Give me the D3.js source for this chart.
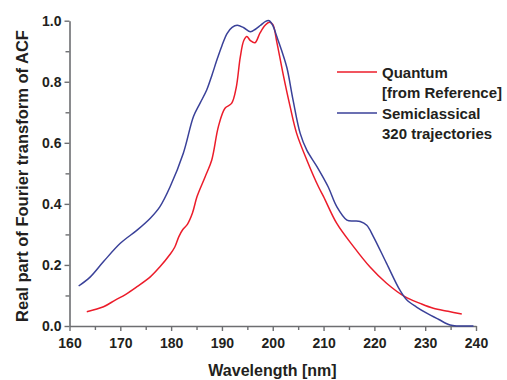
<!DOCTYPE html>
<html><head><meta charset="utf-8">
<script src="https://cdn.jsdelivr.net/npm/d3@7"></script>
<style>
html,body{margin:0;padding:0;background:#fff;}
svg text{font-family:"Liberation Sans",Arial,sans-serif;font-weight:bold;fill:#231f20;}
</style></head>
<body>
<svg id="chart" width="507" height="380"></svg>
<script>
const seriesNames = ["Quantum", "Semiclassical"];
const legendLines = [["Quantum", "[from Reference]"], ["Semiclassical", "320 trajectories"]];
const quantumWl = [163.4,166.7,169,171,173.3,175.9,177.8,179.8,180.7,181.5,182.3,183.2,184.2,185.1,186.7,188,189.3,190.6,191.9,192.8,193.6,194.3,194.9,195.6,196.5,197.5,198.5,199.3,200,200.8,202.1,203.4,204.7,206.7,209,210,212.6,215.9,219.1,222.4,226,229,231.6,234.5,237.2];
const quantumVal = [0.047,0.063,0.085,0.103,0.129,0.161,0.194,0.235,0.258,0.292,0.316,0.333,0.37,0.424,0.489,0.544,0.653,0.713,0.729,0.78,0.88,0.935,0.948,0.935,0.928,0.96,0.985,0.995,0.988,0.93,0.82,0.72,0.631,0.544,0.456,0.424,0.336,0.26,0.194,0.14,0.096,0.074,0.058,0.048,0.039];
const semiWl = [161.8,164.1,166.7,170,173.3,175.9,177.8,179.8,182.4,184.4,185.7,187,188,189,190,191,192,193,194.3,195.6,196.6,197.6,198.6,199.3,200,200.8,201.8,202.8,204,205.4,206.7,208.7,210.9,212.6,214.6,216,217.2,218.5,219.8,222.4,225,226.4,228.3,230.3,232.6,234.9,236.5,239.5];
const semiVal = [0.131,0.161,0.211,0.271,0.314,0.353,0.391,0.456,0.566,0.686,0.73,0.773,0.82,0.871,0.918,0.958,0.978,0.985,0.977,0.964,0.972,0.985,0.998,1.0,0.985,0.948,0.9,0.845,0.74,0.631,0.576,0.522,0.456,0.391,0.347,0.344,0.342,0.33,0.293,0.205,0.118,0.085,0.062,0.042,0.022,0.003,0,0];
const xMajor = [160,170,180,190,200,210,220,230,240];
const xMinor = [165,175,185,195,205,215,225,235];
const yMajor = [0,0.2,0.4,0.6,0.8,1.0];
const yMinor = [0.1,0.3,0.5,0.7,0.9];
const colors = ["#ec1c2a", "#3a4199"];

const svg = d3.select("#chart");
const x = d3.scaleLinear().domain([160,240]).range([69.5,476]);
const y = d3.scaleLinear().domain([0,1]).range([326,20.7]);
const axisColor = "#6d6e71";

function styleAxis(g){
  g.select(".domain").attr("stroke",axisColor).attr("stroke-width",1.6);
  g.selectAll(".tick line").attr("stroke",axisColor).attr("stroke-width",1.4);
  g.selectAll(".tick text").style("font-size","14px").attr("fill","#231f20");
}
const gx = svg.append("g").attr("transform","translate(0,326)")
  .call(d3.axisBottom(x).tickValues(xMajor).tickFormat(d3.format("d")).tickSize(5).tickSizeOuter(0).tickPadding(7));
styleAxis(gx);
const gxm = svg.append("g").attr("transform","translate(0,326)")
  .call(d3.axisBottom(x).tickValues(xMinor).tickFormat("").tickSize(4).tickSizeOuter(0));
gxm.select(".domain").remove(); styleAxis(gxm);
const gy = svg.append("g").attr("transform","translate(69.5,0)")
  .call(d3.axisLeft(y).tickValues(yMajor).tickFormat(d3.format(".1f")).tickSize(5).tickSizeOuter(0).tickPadding(3));
styleAxis(gy);
const gym = svg.append("g").attr("transform","translate(69.5,0)")
  .call(d3.axisLeft(y).tickValues(yMinor).tickFormat("").tickSize(4).tickSizeOuter(0));
gym.select(".domain").remove(); styleAxis(gym);

const line = d3.line().x(d=>x(d[0])).y(d=>y(d[1])).curve(d3.curveCatmullRom.alpha(0.5));
const series = [d3.zip(quantumWl, quantumVal), d3.zip(semiWl, semiVal)];
series.forEach((s,i)=>{
  svg.append("path").datum(s).attr("d",line).attr("fill","none")
    .attr("stroke",colors[i]).attr("stroke-width",1.5);
});

// legend
const lg = svg.append("g");
legendLines.forEach((lines,i)=>{
  const yy = 72 + i*41;
  lg.append("line").attr("x1",337).attr("x2",377).attr("y1",yy).attr("y2",yy)
    .attr("stroke",colors[i]).attr("stroke-width",1.5);
  lines.forEach((t,j)=>{
    lg.append("text").attr("x",382).attr("y",yy+6+j*20).style("font-size","15px").text(t);
  });
});

svg.append("text").attr("x",272.5).attr("y",376).attr("text-anchor","middle")
  .style("font-size","16px").text("Wavelength [nm]");
svg.append("text").attr("transform","translate(28,176) rotate(-90)").attr("text-anchor","middle")
  .style("font-size","16.5px").text("Real part of Fourier transform of ACF");
</script>
</body></html>
